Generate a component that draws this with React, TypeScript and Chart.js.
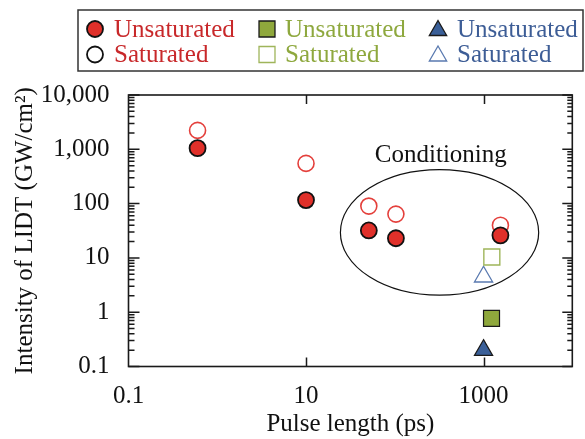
import React, { useEffect, useRef } from "react";
import { Chart, registerables } from "chart.js";

Chart.register(...registerables);

// ---- data ----
const redUnsatPulse = [0.6, 10, 51, 103, 1550];
const redUnsatLidt = [1050, 116, 32, 23, 26];
const redSatPulse = [0.6, 10, 51, 103, 1550];
const redSatLidt = [2230, 550, 90, 64, 40];
const greenUnsatPulse = [1230];
const greenUnsatLidt = [0.77];
const greenSatPulse = [1240];
const greenSatLidt = [10.4];
const blueUnsatPulse = [1000];
const blueUnsatLidt = [0.2];
const blueSatPulse = [1000];
const blueSatLidt = [4.5];

const xTickValues = [0.1, 10, 1000];
const yTickValues = [0.1, 1, 10, 100, 1000, 10000];
const xMajorMarks = [10, 1000];

// ellipse bounds (pulse left/right, LIDT bottom/top)
const ellipsePulse = [24.4, 4180];
const ellipseLidt = [2.06, 422];
const annotationLabel = "Conditioning";
const annotationPulse = [330];
const annotationLidt = [781];

const xTitle = "Pulse length (ps)";
const yTitle = "Intensity of LIDT (GW/cm\u00B2)";

const RED = "#e0302a";
const RED_TEXT = "#c8282a";
const GREEN = "#8fa83c";
const GREEN_TEXT = "#8ea83e";
const BLUE = "#3a5f98";
const BLUE_TEXT = "#3d5d96";
const FONT = "'Liberation Serif', 'DejaVu Serif', serif";
const FS = 25;

const toPts = (xs: number[], ys: number[]) => xs.map((x, i) => ({ x, y: ys[i] }));

function drawMarker(
  ctx: CanvasRenderingContext2D,
  style: string,
  x: number,
  y: number,
  r: number,
  fill: string | null,
  stroke: string,
  lw: number
) {
  ctx.save();
  ctx.beginPath();
  if (style === "circle") {
    ctx.arc(x, y, r, 0, Math.PI * 2);
  } else if (style === "rect") {
    const s = r * Math.SQRT1_2;
    ctx.rect(x - s, y - s, 2 * s, 2 * s);
  } else {
    const w = r * Math.sqrt(3) / 2;
    ctx.moveTo(x, y - r);
    ctx.lineTo(x + w, y + r / 2);
    ctx.lineTo(x - w, y + r / 2);
    ctx.closePath();
  }
  if (fill) {
    ctx.fillStyle = fill;
    ctx.fill();
  }
  ctx.lineWidth = lw;
  ctx.strokeStyle = stroke;
  ctx.stroke();
  ctx.restore();
}

const decorPlugin = {
  id: "decor",
  beforeDatasetsDraw(chart: any) {
    const { ctx } = chart;
    const xs = chart.scales.x;
    const ys = chart.scales.y;
    // ellipse
    const xl = xs.getPixelForValue(ellipsePulse[0]);
    const xr = xs.getPixelForValue(ellipsePulse[1]);
    const yb = ys.getPixelForValue(ellipseLidt[0]);
    const yt = ys.getPixelForValue(ellipseLidt[1]);
    ctx.save();
    ctx.beginPath();
    ctx.ellipse((xl + xr) / 2, (yb + yt) / 2, (xr - xl) / 2, (yb - yt) / 2, 0, 0, Math.PI * 2);
    ctx.lineWidth = 1.2;
    ctx.strokeStyle = "#111";
    ctx.stroke();
    // annotation text
    ctx.fillStyle = "#111";
    ctx.font = `${FS}px ${FONT}`;
    ctx.textAlign = "center";
    ctx.textBaseline = "middle";
    ctx.fillText(
      annotationLabel,
      xs.getPixelForValue(annotationPulse[0]),
      ys.getPixelForValue(annotationLidt[0])
    );
    ctx.restore();
  },
  afterDatasetsDraw(chart: any) {
    const { ctx, chartArea } = chart;
    const { left, right, top, bottom } = chartArea;
    const xs = chart.scales.x;
    const ys = chart.scales.y;
    ctx.save();
    ctx.strokeStyle = "#1a1a1a";
    ctx.lineWidth = 1.5;
    // ticks
    ctx.beginPath();
    xMajorMarks.forEach((v) => {
      const px = Math.round(xs.getPixelForValue(v)) + 0.5;
      ctx.moveTo(px, bottom);
      ctx.lineTo(px, bottom - 9);
      ctx.moveTo(px, top);
      ctx.lineTo(px, top + 9);
    });
    yTickValues.forEach((v, i) => {
      const py = ys.getPixelForValue(v);
      ctx.moveTo(left, py);
      ctx.lineTo(left + 11, py);
      ctx.moveTo(right, py);
      ctx.lineTo(right - 10, py);
      if (i < yTickValues.length - 1) {
        for (let m = 2; m <= 9; m++) {
          const pm = ys.getPixelForValue(v * m);
          ctx.moveTo(left, pm);
          ctx.lineTo(left + 6, pm);
          ctx.moveTo(right, pm);
          ctx.lineTo(right - 5, pm);
        }
      }
    });
    ctx.stroke();
    // frame
    ctx.lineWidth = 1.6;
    ctx.strokeStyle = "#1a1a1a";
    ctx.strokeRect(left, top, right - left, bottom - top);
    ctx.restore();
  },
  afterDraw(chart: any) {
    const { ctx } = chart;
    ctx.save();
    // legend box
    ctx.lineWidth = 1.5;
    ctx.strokeStyle = "#333";
    ctx.strokeRect(78, 10, 505, 61);
    const cols = [95, 267, 438];
    const textX = [114, 285, 457];
    const rows = [29, 54.5];
    const baselines = [37, 62];
    const ds = chart.data.datasets;
    const order = [
      [0, 2, 4],
      [1, 3, 5],
    ];
    ctx.font = `${FS}px ${FONT}`;
    ctx.textAlign = "left";
    ctx.textBaseline = "alphabetic";
    order.forEach((row, ri) => {
      row.forEach((di, ci) => {
        const d = ds[di];
        const isFill = d.backgroundColor !== "rgba(0,0,0,0)";
        const style = d.pointStyle;
        const r = style === "circle" ? 8 : style === "rect" ? 11.3 : 10;
        drawMarker(
          ctx,
          style,
          cols[ci],
          rows[ri] + (style === "triangle" ? 1.5 : 0),
          r,
          isFill ? d.backgroundColor : null,
          ri === 1 && style === "circle" ? "#111" : d.borderColor,
          style === "circle" ? 1.8 : 1.3
        );
        ctx.fillStyle = d.legendColor;
        ctx.fillText(d.label, textX[ci], baselines[ri]);
      });
    });
    ctx.restore();
  },
};

export default function App() {
  const ref = useRef<HTMLCanvasElement | null>(null);
  useEffect(() => {
    if (!ref.current) return;
    const chart = new Chart(ref.current, {
      type: "scatter",
      data: {
        datasets: [
          {
            label: "Unsaturated",
            data: toPts(redUnsatPulse, redUnsatLidt),
            pointStyle: "circle",
            pointRadius: 8,
            backgroundColor: RED,
            borderColor: "#111",
            borderWidth: 1.8,
            legendColor: RED_TEXT,
          } as any,
          {
            label: "Saturated",
            data: toPts(redSatPulse, redSatLidt),
            pointStyle: "circle",
            pointRadius: 8,
            backgroundColor: "rgba(0,0,0,0)",
            borderColor: "#e4403c",
            borderWidth: 1.6,
            legendColor: RED_TEXT,
          } as any,
          {
            label: "Unsaturated",
            data: toPts(greenUnsatPulse, greenUnsatLidt),
            pointStyle: "rect",
            pointRadius: 11.3,
            backgroundColor: GREEN,
            borderColor: "#1a1a1a",
            borderWidth: 1.2,
            legendColor: GREEN_TEXT,
          } as any,
          {
            label: "Saturated",
            data: toPts(greenSatPulse, greenSatLidt),
            pointStyle: "rect",
            pointRadius: 11.3,
            backgroundColor: "rgba(0,0,0,0)",
            borderColor: "#9fb55a",
            borderWidth: 1.4,
            legendColor: GREEN_TEXT,
          } as any,
          {
            label: "Unsaturated",
            data: toPts(blueUnsatPulse, blueUnsatLidt),
            pointStyle: "triangle",
            pointRadius: 10.5,
            backgroundColor: BLUE,
            borderColor: "#1a1a1a",
            borderWidth: 1.2,
            legendColor: BLUE_TEXT,
          } as any,
          {
            label: "Saturated",
            data: toPts(blueSatPulse, blueSatLidt),
            pointStyle: "triangle",
            pointRadius: 10.5,
            backgroundColor: "rgba(0,0,0,0)",
            borderColor: "#5a7ab0",
            borderWidth: 1.3,
            legendColor: BLUE_TEXT,
          } as any,
        ],
      },
      options: {
        animation: false,
        responsive: false,
        devicePixelRatio: 1,
        layout: { padding: { top: 95, right: 8, left: 0, bottom: 0 } },
        plugins: {
          legend: { display: false },
          tooltip: { enabled: false },
        },
        elements: { point: { hoverRadius: 8 } },
        scales: {
          x: {
            type: "logarithmic",
            min: 0.1,
            max: 10000,
            afterBuildTicks: (s: any) => {
              s.ticks = xTickValues.map((v) => ({ value: v }));
            },
            afterFit: (s: any) => {
              s.height = 72.5;
            },
            grid: { display: false },
            border: { display: false },
            ticks: {
              autoSkip: false,
              maxRotation: 0,
              padding: 7,
              color: "#111",
              font: { family: FONT, size: FS },
              callback: (v: any) => String(v),
            },
            title: {
              display: true,
              text: xTitle,
              color: "#111",
              font: { family: FONT, size: FS },
              padding: { top: -2, bottom: 0 },
            },
          },
          y: {
            type: "logarithmic",
            min: 0.1,
            max: 10000,
            afterBuildTicks: (s: any) => {
              s.ticks = yTickValues.map((v) => ({ value: v }));
            },
            afterFit: (s: any) => {
              s.width = 128.5;
            },
            grid: { display: false },
            border: { display: false },
            ticks: {
              autoSkip: false,
              padding: 11,
              color: "#111",
              font: { family: FONT, size: FS },
              callback: (v: any) => Number(v).toLocaleString("en-US"),
            },
            title: {
              display: true,
              text: yTitle,
              color: "#111",
              font: { family: FONT, size: FS },
              padding: { top: 10, bottom: 0 },
            },
          },
        },
      } as any,
      plugins: [decorPlugin],
    });
    return () => chart.destroy();
  }, []);
  return (
    <div style={{ position: "fixed", left: 0, top: 0, width: 585, height: 439, background: "#fff" }}>
      <canvas ref={ref} width={585} height={439} style={{ width: 585, height: 439 }} />
    </div>
  );
}
